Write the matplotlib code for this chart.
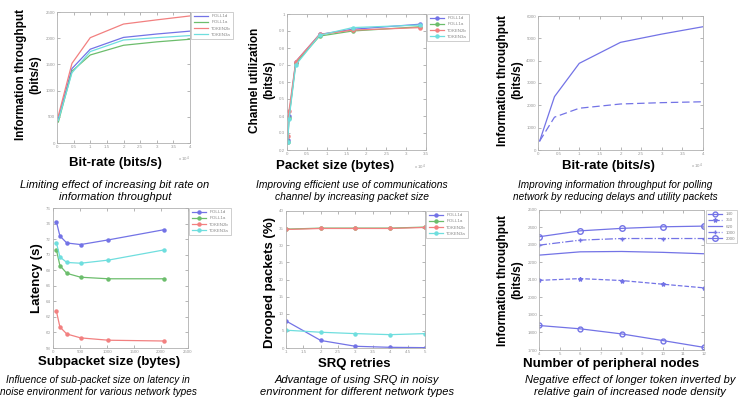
import matplotlib

matplotlib.use("Agg")
import matplotlib.pyplot as plt
from matplotlib.ticker import FuncFormatter, MultipleLocator

W, H = 753, 398
plt.rcParams["font.family"] = ["Liberation Sans", "DejaVu Sans"]

NETS = ["POLL1d", "POLL1a", "TOKEN2b", "TOKEN3a"]
NET_COLORS = ["#7373e6", "#6cbd6c", "#f28080", "#6fdede"]

# panel 1: bit rate (x 10^4 bits/s) vs information throughput
br1 = [0.04, 0.45, 1, 2, 3, 4]
thr1 = {
    "POLL1d": [470, 1420, 1790, 2015, 2080, 2135],
    "POLL1a": [400, 1370, 1680, 1865, 1930, 1980],
    "TOKEN2b": [520, 1520, 2010, 2270, 2350, 2425],
    "TOKEN3a": [430, 1340, 1745, 1965, 2010, 2050],
}

# panel 2: packet size (x 10^4 bytes) vs channel utilization
psize = [0.02, 0.05, 0.22, 0.82, 1.65, 3.35]
util = {
    "POLL1d": [0.26, 0.40, 0.72, 0.880, 0.910, 0.940],
    "POLL1a": [0.25, 0.39, 0.71, 0.870, 0.900, 0.925],
    "TOKEN2b": [0.28, 0.43, 0.72, 0.880, 0.905, 0.920],
    "TOKEN3a": [0.25, 0.38, 0.70, 0.875, 0.920, 0.935],
}

# panel 3: polling network, improved vs original
br3 = [0.04, 0.4, 1, 2, 3, 4]
thr3_improved = [400, 2390, 3880, 4820, 5190, 5520]
thr3_original = [400, 1470, 1870, 2060, 2120, 2160]

# panel 4: subpacket size vs latency
subsize = [64, 128, 256, 512, 1024, 2048]
latency = {
    "POLL1d": [74.2, 72.4, 71.5, 71.3, 71.9, 73.2],
    "POLL1a": [70.6, 68.6, 67.6, 67.1, 66.9, 66.9],
    "TOKEN2b": [62.7, 60.7, 59.8, 59.3, 59.0, 58.9],
    "TOKEN3a": [71.5, 69.7, 69.0, 68.9, 69.3, 70.6],
}

# panel 5: SRQ retries vs dropped packets
retries = [1, 2, 3, 4, 5]
dropped = {
    "POLL1d": [7.9, 2.2, 0.5, 0.2, 0.1],
    "POLL1a": [34.7, 35.0, 35.0, 35.0, 35.3],
    "TOKEN2b": [34.6, 34.9, 34.9, 34.9, 35.2],
    "TOKEN3a": [5.2, 4.6, 4.2, 3.9, 4.2],
}

# panel 6: peripheral nodes vs throughput, per token length
nodes = [4, 6, 8, 10, 12]
tokens = ["140", "350", "620", "1000", "2000"]
thr6 = {
    "140": [1840, 1821, 1792, 1754, 1715],
    "350": [2098, 2108, 2097, 2076, 2055],
    "620": [2242, 2261, 2263, 2258, 2250],
    "1000": [2299, 2328, 2337, 2337, 2337],
    "2000": [2347, 2381, 2395, 2404, 2408],
}
TOKEN_STYLE = {
    "140": dict(ls="-", marker="o", ms=3.5, mfc="none"),
    "350": dict(ls="--", marker="*", ms=3),
    "620": dict(ls="-", marker="", ms=0),
    "1000": dict(ls="-.", marker="+", ms=3),
    "2000": dict(ls="-", marker="o", ms=4, mfc="none"),
}

fig = plt.figure(figsize=(W / 100, H / 100), dpi=100)
fig.patch.set_facecolor("white")


def px_rect(x0, y0, x1, y1):
    return [x0 / W, 1 - y1 / H, (x1 - x0) / W, (y1 - y0) / H]


def style_axes(ax, xlim, ylim, xstep, ystep):
    ax.set_xlim(*xlim)
    ax.set_ylim(*ylim)
    ax.xaxis.set_major_locator(MultipleLocator(xstep))
    ax.yaxis.set_major_locator(MultipleLocator(ystep))
    fmt = FuncFormatter(lambda v, _: f"{v:g}")
    ax.xaxis.set_major_formatter(fmt)
    ax.yaxis.set_major_formatter(fmt)
    ax.tick_params(direction="in", top=True, right=True, length=2, width=0.5,
                   labelsize=3.2, colors="#999999", pad=1.5)
    for s in ax.spines.values():
        s.set_color("#b0b0b0")
        s.set_linewidth(0.6)


def small_legend(ax):
    leg = ax.legend(loc="upper left", bbox_to_anchor=(1.01, 1.0), fontsize=3.2,
                    handlelength=3.2, borderpad=0.5, labelspacing=0.45,
                    fancybox=False, borderaxespad=0)
    leg.get_frame().set_edgecolor("#aaaaaa")
    leg.get_frame().set_linewidth(0.5)
    for t in leg.get_texts():
        t.set_color("#888888")


def ylab(x, yc, text, fs):
    fig.text(x / W, 1 - yc / H, text, rotation=90, ha="center", va="center",
             fontsize=fs, fontweight="bold", linespacing=1.25)


def xlab(xc, y, text):
    fig.text(xc / W, 1 - y / H, text, ha="center", va="center", fontsize=9.5,
             fontweight="bold")


def caption(xc, y, text, fs=8):
    fig.text(xc / W, 1 - y / H, text, ha="center", va="center", fontsize=fs,
             fontstyle="italic", linespacing=1.2)


def exponent(ax):
    ax.text(1.0, -0.09, r"x 10$^4$", transform=ax.transAxes, ha="right", va="top",
            fontsize=3.2, color="#999999")


# ---- panel 1
ax1 = fig.add_axes(px_rect(57, 12, 190, 143))
for n, c in zip(NETS, NET_COLORS):
    ax1.plot(br1, thr1[n], color=c, lw=0.9, label=n)
style_axes(ax1, (0, 4), (0, 2500), 0.5, 500)
small_legend(ax1)
exponent(ax1)
ylab(28, 75, "Information throughput\n(bits/s)", 8.5)
xlab(115, 163, "Bit-rate (bits/s)")
caption(115, 191, "Limiting effect of increasing bit rate on\ninformation throughput")

# ---- panel 2
ax2 = fig.add_axes(px_rect(287, 14, 426, 150))
for n, c in zip(NETS, NET_COLORS):
    ax2.plot(psize, util[n], color=c, lw=0.9, marker="o", ms=2.2, label=n)
style_axes(ax2, (0, 3.5), (0.2, 1.0), 0.5, 0.1)
small_legend(ax2)
exponent(ax2)
ylab(262, 80, "Channel utilization\n(bits/s)", 8.5)
xlab(335, 166, "Packet size (bytes)")
caption(352, 191, "Improving efficient use of communications\nchannel by increasing packet size", 7.4)

# ---- panel 3
ax3 = fig.add_axes(px_rect(538, 16, 703, 150))
ax3.plot(br3, thr3_improved, color="#7373e6", lw=0.9)
ax3.plot(br3, thr3_original, color="#7373e6", lw=0.9, ls=(0, (6, 3)))
style_axes(ax3, (0, 4), (0, 6000), 0.5, 1000)
exponent(ax3)
ylab(510, 80, "Information throughput\n(bits/s)", 8.5)
xlab(608, 166, "Bit-rate (bits/s)")
caption(615, 191, "Improving information throughput for polling\nnetwork by reducing delays and utility packets", 7.2)

# ---- panel 4
ax4 = fig.add_axes(px_rect(53, 208, 188, 348))
for n, c in zip(NETS, NET_COLORS):
    ax4.plot(subsize, latency[n], color=c, lw=0.9, marker="o", ms=2.2, label=n)
style_axes(ax4, (0, 2500), (58, 76), 500, 2)
small_legend(ax4)
ylab(37, 278, "Latency (s)", 9.5)
xlab(109, 362, "Subpacket size (bytes)")
caption(98, 386, "Influence of sub-packet size on latency in\nnoise environment for various network types", 7.2)

# ---- panel 5
ax5 = fig.add_axes(px_rect(286, 211, 425, 348))
for n, c in zip(NETS, NET_COLORS):
    ax5.plot(retries, dropped[n], color=c, lw=0.9, marker="o", ms=2.2, label=n)
style_axes(ax5, (1, 5), (0, 40), 0.5, 5)
small_legend(ax5)
ylab(270, 282, "Drooped packets (%)", 9.5)
xlab(354, 364, "SRQ retries")
caption(357, 386, "Advantage of using SRQ in noisy\nenvironment for different network types")

# ---- panel 6
ax6 = fig.add_axes(px_rect(539, 210, 704, 350))
for t in tokens:
    ax6.plot(nodes, thr6[t], color="#7373e6", lw=0.9, label=t, **TOKEN_STYLE[t])
style_axes(ax6, (4, 12), (1700, 2500), 1, 100)
small_legend(ax6)
ylab(510, 280, "Information throughput\n(bits/s)", 8.5)
xlab(611, 364, "Number of peripheral nodes")
caption(630, 386, "Negative effect of longer token inverted by\nrelative gain of increased node density")

fig.savefig("out.png", dpi=100, facecolor="white")
